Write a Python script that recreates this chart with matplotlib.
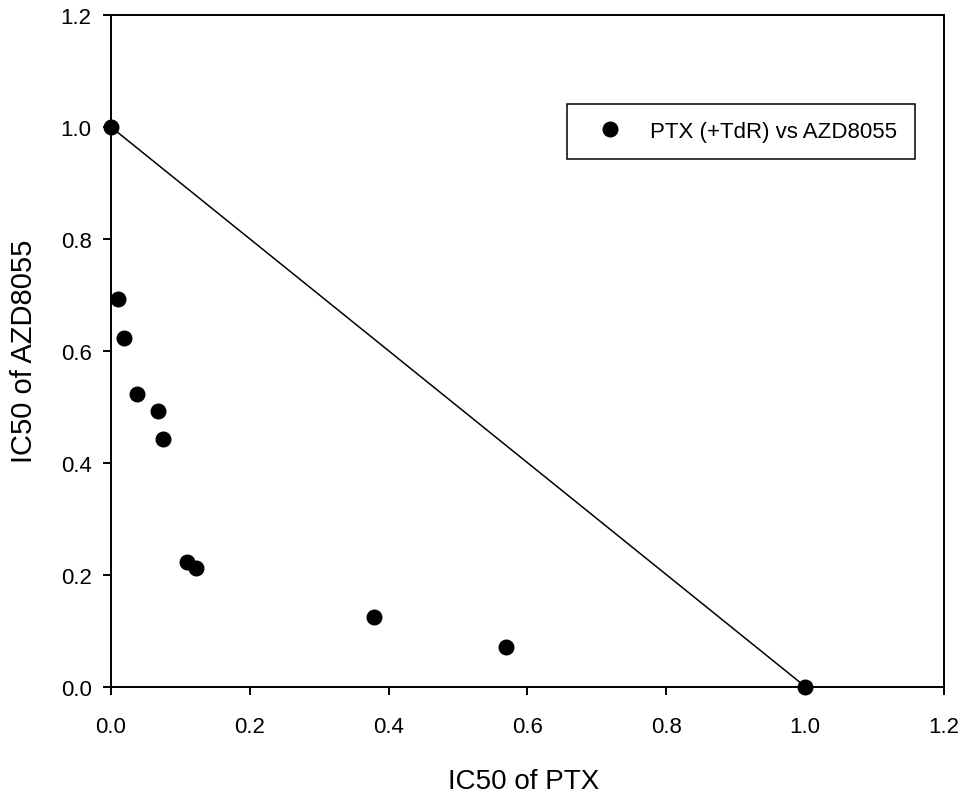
import matplotlib
matplotlib.use("Agg")
import matplotlib.pyplot as plt

plt.rcParams['font.family'] = ['Liberation Sans', 'DejaVu Sans']

# Normalized IC50 pairs (isobologram)
ptx_ic50 = [0.0, 0.010, 0.019, 0.038, 0.068, 0.075, 0.109, 0.122, 0.379, 0.569, 1.0]
azd_ic50 = [1.0, 0.692, 0.622, 0.522, 0.492, 0.442, 0.223, 0.212, 0.125, 0.071, 0.0]

# Line of additivity
add_x = [0.0, 1.0]
add_y = [1.0, 0.0]

tick_vals = [0.0, 0.2, 0.4, 0.6, 0.8, 1.0, 1.2]
tick_labels = ["0.0", "0.2", "0.4", "0.6", "0.8", "1.0", "1.2"]

fig = plt.figure(figsize=(9.66, 8.03), dpi=100)
ax = fig.add_axes([0.1149, 0.1438, 0.8623, 0.8362])

ax.plot(add_x, add_y, color='black', lw=1.1, zorder=2)
ax.plot(ptx_ic50, azd_ic50, 'o', color='black', markersize=10.5,
        linestyle='none', label='PTX (+TdR) vs AZD8055', zorder=3,
        clip_on=False)

ax.set_xlim(0, 1.2)
ax.set_ylim(0, 1.2)
ax.set_xticks(tick_vals)
ax.set_xticklabels(tick_labels)
ax.set_yticks(tick_vals)
ax.set_yticklabels(tick_labels)

for s in ax.spines.values():
    s.set_linewidth(1.4)
ax.tick_params(axis='both', direction='out', length=6, width=1.4,
               labelsize=16)
ax.tick_params(axis='x', pad=15)
ax.tick_params(axis='y', pad=8)

ax.set_xlabel('IC50 of PTX', fontsize=20)
ax.set_ylabel('IC50 of AZD8055', fontsize=21)
ax.xaxis.set_label_coords(0.495, -0.14)
ax.xaxis.label.set_va('center')
ax.yaxis.set_label_coords(-0.104, 0.5)
ax.yaxis.label.set_va('center')

leg = ax.legend(loc='center', bbox_to_anchor=(0.7561, 0.8265), fontsize=16,
                frameon=True, fancybox=False, edgecolor='black',
                framealpha=1, borderpad=0.78, handlelength=2.35,
                handletextpad=0.62, numpoints=1)
leg.get_frame().set_linewidth(1.1)

fig.savefig('out.png', dpi=100)
